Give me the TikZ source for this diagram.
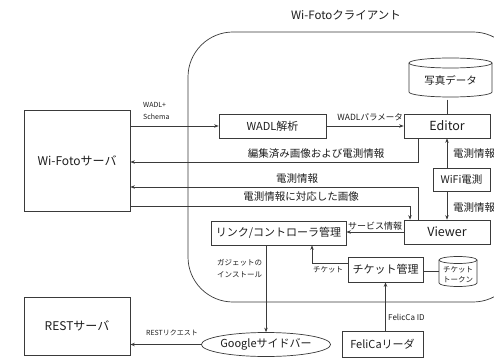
\documentclass[tikz,border=0pt]{standalone}
\usepackage{fontspec}
\setmainfont{Noto Sans CJK JP}
\usetikzlibrary{arrows.meta,shapes.geometric}
\definecolor{lc}{HTML}{3A3A3A}
\definecolor{tc}{HTML}{1E1E1E}
\newcommand\fsz[2]{\fontsize{#1}{#2}\selectfont}
\begin{document}
\begin{tikzpicture}[x=1pt,y=-1pt,
  box/.style={draw=lc, line width=0.7pt, inner sep=0pt, text=tc, font=\fsz{10.5}{12}},
  plain/.style={inner sep=0pt, text=tc},
  con/.style={draw=lc, line width=0.7pt},
  arr/.style={draw=lc, line width=0.7pt, -{Stealth[length=4.5pt,width=3.5pt]}},
  lab/.style={inner sep=0pt, text=tc}]
\useasboundingbox (0,0) rectangle (494,358);
\clip (0,0) rectangle (494,358);
\fill[white] (0,0) rectangle (494,358);

% client region
\draw[con, rounded corners=45pt] (188,32) rectangle (518,302);
\node[lab, font=\fsz{11.5}{13}] (title) at (346,15) {Wi-Fotoクライアント};

% nodes
\node[box, minimum width=106pt, minimum height=101pt, font=\fsz{12}{14}] (server) at (77,160.5) {Wi-Fotoサーバ};
\node[box, minimum width=106pt, minimum height=58pt, font=\fsz{12}{14}] (rest) at (77,326) {RESTサーバ};
\node[box, minimum width=107pt, minimum height=24pt, font=\fsz{11}{13}] (wadl) at (272.5,126) {WADL解析};
\node[box, minimum width=86pt, minimum height=24pt, font=\fsz{12.5}{14}] (editor) at (447,126) {Editor};
\node[box, minimum width=57pt, minimum height=23pt] (wifi) at (461.5,179.5) {WiFi電測};
\node[box, minimum width=86pt, minimum height=24pt, font=\fsz{12.5}{14}] (viewer) at (447,232) {Viewer};
\node[box, minimum width=135pt, minimum height=24pt, font=\fsz{11}{13}] (link) at (278.5,233) {リンク/コントローラ管理};
\node[box, minimum width=75pt, minimum height=25pt, font=\fsz{11}{13}] (ticket) at (385.5,269.5) {チケット管理};
\node[box, minimum width=81pt, minimum height=26pt, font=\fsz{11}{13}] (felica) at (382.5,344) {FeliCaリーダ};
\node[box, ellipse, minimum width=122pt, minimum height=24pt, font=\fsz{11}{13}] (google) at (266,344.5) {Googleサイドバー};

% cylinders
\node[plain, minimum width=83pt, minimum height=39pt, font=\fsz{10.5}{12}] (photo) at (450.5,80) {写真データ};
\draw[con] (409,63) -- (409,92) arc[start angle=180, end angle=360, x radius=41.5pt, y radius=5pt] -- (492,63);
\draw[con] (450.5,63) ellipse [x radius=41.5pt, y radius=5pt];
\coordinate (tok) at (458,271.5);
\node[plain, align=center, font=\fsz{7.5}{10}] (toktext) at (458,274.5) {チケット\\トークン};
\node[plain, minimum width=38pt, minimum height=31pt] (token) at (tok) {};
\draw[con] (439,260) -- (439,283) arc[start angle=180, end angle=360, x radius=19pt, y radius=3.5pt] -- (477,260);
\draw[con] (458,260) ellipse [x radius=19pt, y radius=3.5pt];

% helper coordinates
\coordinate (e1) at (418,162);
\coordinate (v1) at (418,187);
\coordinate (v2) at (410,206);
\coordinate (t1) at (312,263);

% connectors
\draw[arr] (server.east |- wadl.west) -- (wadl.west);
\draw[arr] (wadl.east) -- (editor.west);
\draw[con] (editor.north |- photo.south) -- (editor.north);
\draw[arr] (editor.south -| e1) -- (e1) -- (server.east |- e1);
\draw[arr] (editor.south |- wifi.north) -- (editor.south);
\draw[arr] (viewer.north |- wifi.south) -- (viewer.north);
\draw[arr] (viewer.north -| v1) -- (v1) -- (server.east |- v1);
\draw[arr] (server.east |- v2) -- (v2) -- (viewer.north -| v2);
\draw[arr] (viewer.west) -- (link.east |- viewer.west);
\draw[arr] (link.south -| google.north) -- (google.north);
\draw[arr] (ticket.west |- t1) -- (t1) -- (link.south -| t1);
\draw[con] (ticket.east |- token.west) -- (token.west);
\draw[arr] (ticket.south |- felica.north) -- (ticket.south);
\draw[arr] (google.west) -- (rest.east |- google.west);

% labels
\node[lab, anchor=west, align=left, font=\fsz{7}{11.5}] (l1) at (143,111) {WADL+\\Schema};
\node[lab, anchor=east, font=\fsz{8.5}{10}] (l2) at (403,117) {WADLパラメータ};
\node[lab, font=\fsz{10.5}{12}] (l3) at (316,154) {編集済み画像および電測情報};
\node[lab, font=\fsz{10.5}{12}] (l4) at (297,179) {電測情報};
\node[lab, font=\fsz{10.5}{12}] (l5) at (301,197) {電測情報に対応した画像};
\node[lab, anchor=west, font=\fsz{10.5}{12}] (l6) at (453,154) {電測情報};
\node[lab, anchor=west, font=\fsz{10.5}{12}] (l7) at (453,208) {電測情報};
\node[lab, font=\fsz{9}{10}] (l8) at (375,226) {サービス情報};
\node[lab, font=\fsz{7.5}{9}] (l9) at (328,270) {チケット};
\node[lab, anchor=west, align=left, font=\fsz{7.5}{12}] (l10) at (217,269) {ガジェットの\\インストール};
\node[lab, font=\fsz{7}{9}] (l11) at (172,333) {RESTリクエスト};
\node[lab, anchor=west, font=\fsz{8}{10}] (l12) at (388,317) {FelicCa ID};
\end{tikzpicture}
\end{document}
